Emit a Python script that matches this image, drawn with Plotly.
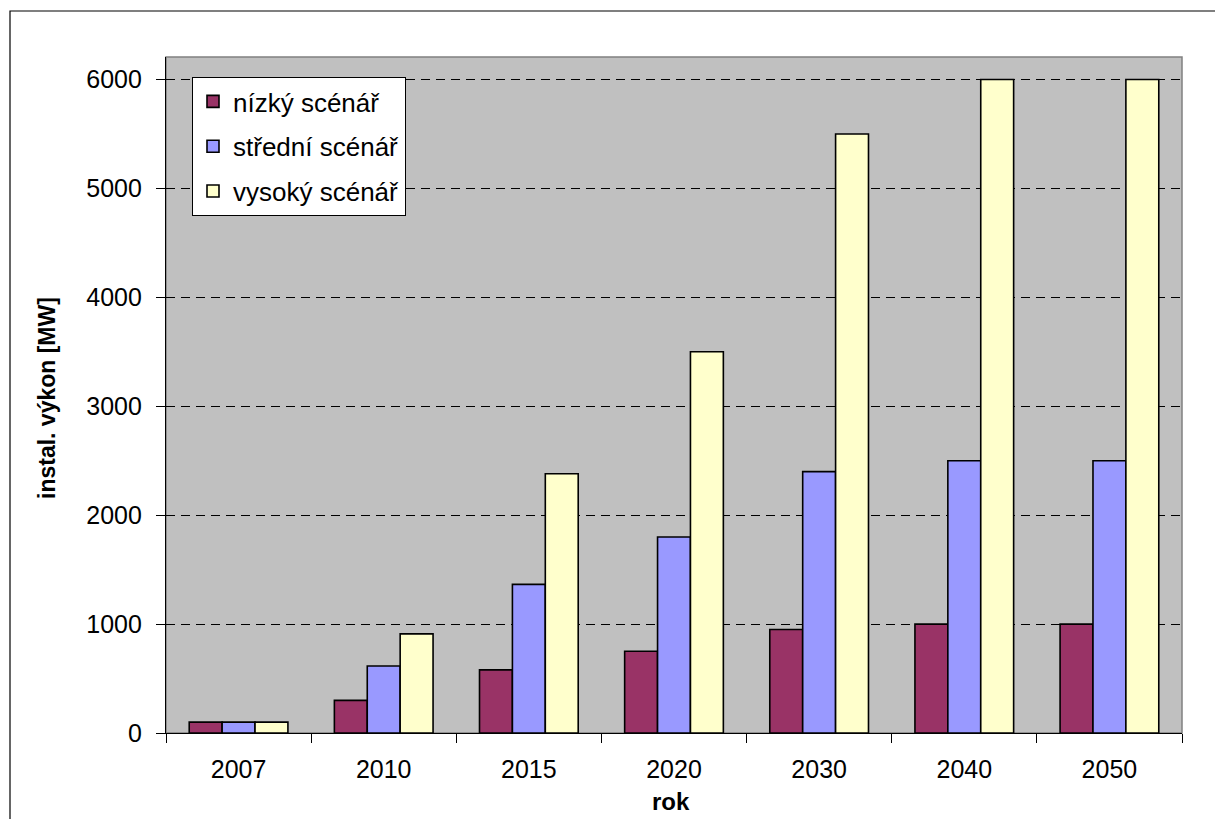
import plotly.graph_objects as go

years = ["2007", "2010", "2015", "2020", "2030", "2040", "2050"]
nizky = [100, 300, 580, 750, 950, 1000, 1000]
stredni = [100, 615, 1365, 1800, 2400, 2500, 2500]
vysoky = [100, 910, 2380, 3500, 5500, 6000, 6000]
series_names = ["nízký scénář", "střední scénář", "vysoký scénář"]
colors = ["#993366", "#9999FF", "#FFFFCC"]
yticks = [0, 1000, 2000, 3000, 4000, 5000, 6000]

W, H = 1215, 819
L, R, T, B = 166, 33, 57, 86
pw, ph = W - L - R, H - T - B

def px_x(x):
    return (x - L) / pw

def px_y(y):
    return (H - B - y) / ph

FONT = "Liberation Sans, Arial, sans-serif"

fig = go.Figure()
for i, (name, vals) in enumerate(zip(series_names, [nizky, stredni, vysoky])):
    fig.add_trace(go.Bar(
        x=years, y=vals, name=name,
        marker=dict(color=colors[i], line=dict(color="black", width=1.6)),
        legendgroup=f"g{i}",
    ))

fig.update_layout(
    width=W, height=H,
    margin=dict(l=L, r=R, t=T, b=B, pad=0),
    paper_bgcolor="white",
    plot_bgcolor="#C0C0C0",
    barmode="group",
    bargap=0.32,
    bargroupgap=0,
    font=dict(family=FONT, size=25, color="black"),
    showlegend=True,
    legend=dict(
        x=px_x(192), y=px_y(77), xanchor="left", yanchor="top",
        bgcolor="white", bordercolor="black", borderwidth=1,
        font=dict(family=FONT, size=26, color="black"),
        tracegroupgap=8,
        itemwidth=30,
    ),
    xaxis=dict(
        type="category",
        showline=True, linecolor="black", linewidth=1.2,
        ticks="outside", ticklen=9, tickcolor="black", tickwidth=1.2,
        tickson="boundaries",
        showgrid=False,
        tickfont=dict(family=FONT, size=25, color="black"),
        ticklabelstandoff=14,
    ),
    yaxis=dict(
        range=[0, 6207],
        tickvals=yticks,
        showline=True, linecolor="black", linewidth=1.2,
        ticks="outside", ticklen=9, tickcolor="black", tickwidth=1.2,
        showgrid=True, gridcolor="black", gridwidth=1, griddash="9px,6px",
        zeroline=False,
        tickfont=dict(family=FONT, size=25, color="black"),
        ticklabelstandoff=9,
    ),
    shapes=[
        dict(type="rect", xref="paper", yref="paper", x0=0, x1=1, y0=0, y1=1,
             line=dict(color="#808080", width=1.5), layer="below"),
        dict(type="rect", xref="paper", yref="paper",
             x0=px_x(10), x1=px_x(1240), y0=px_y(840), y1=px_y(11),
             line=dict(color="black", width=1.2), fillcolor="rgba(0,0,0,0)", layer="below"),
    ],
    annotations=[
        dict(text="<b>rok</b>", xref="paper", yref="paper",
             x=px_x(671), y=px_y(802), showarrow=False,
             xanchor="center", yanchor="middle",
             font=dict(family=FONT, size=24, color="black")),
        dict(text="<b>instal. výkon [MW]</b>", xref="paper", yref="paper",
             x=px_x(47), y=px_y(398), showarrow=False, textangle=-90,
             xanchor="center", yanchor="middle",
             font=dict(family=FONT, size=23, color="black")),
    ],
)

fig.write_html(
    "out.html",
    config={"displayModeBar": False},
    post_script="document.body.style.margin='0px';document.body.style.overflow='hidden';",
)
